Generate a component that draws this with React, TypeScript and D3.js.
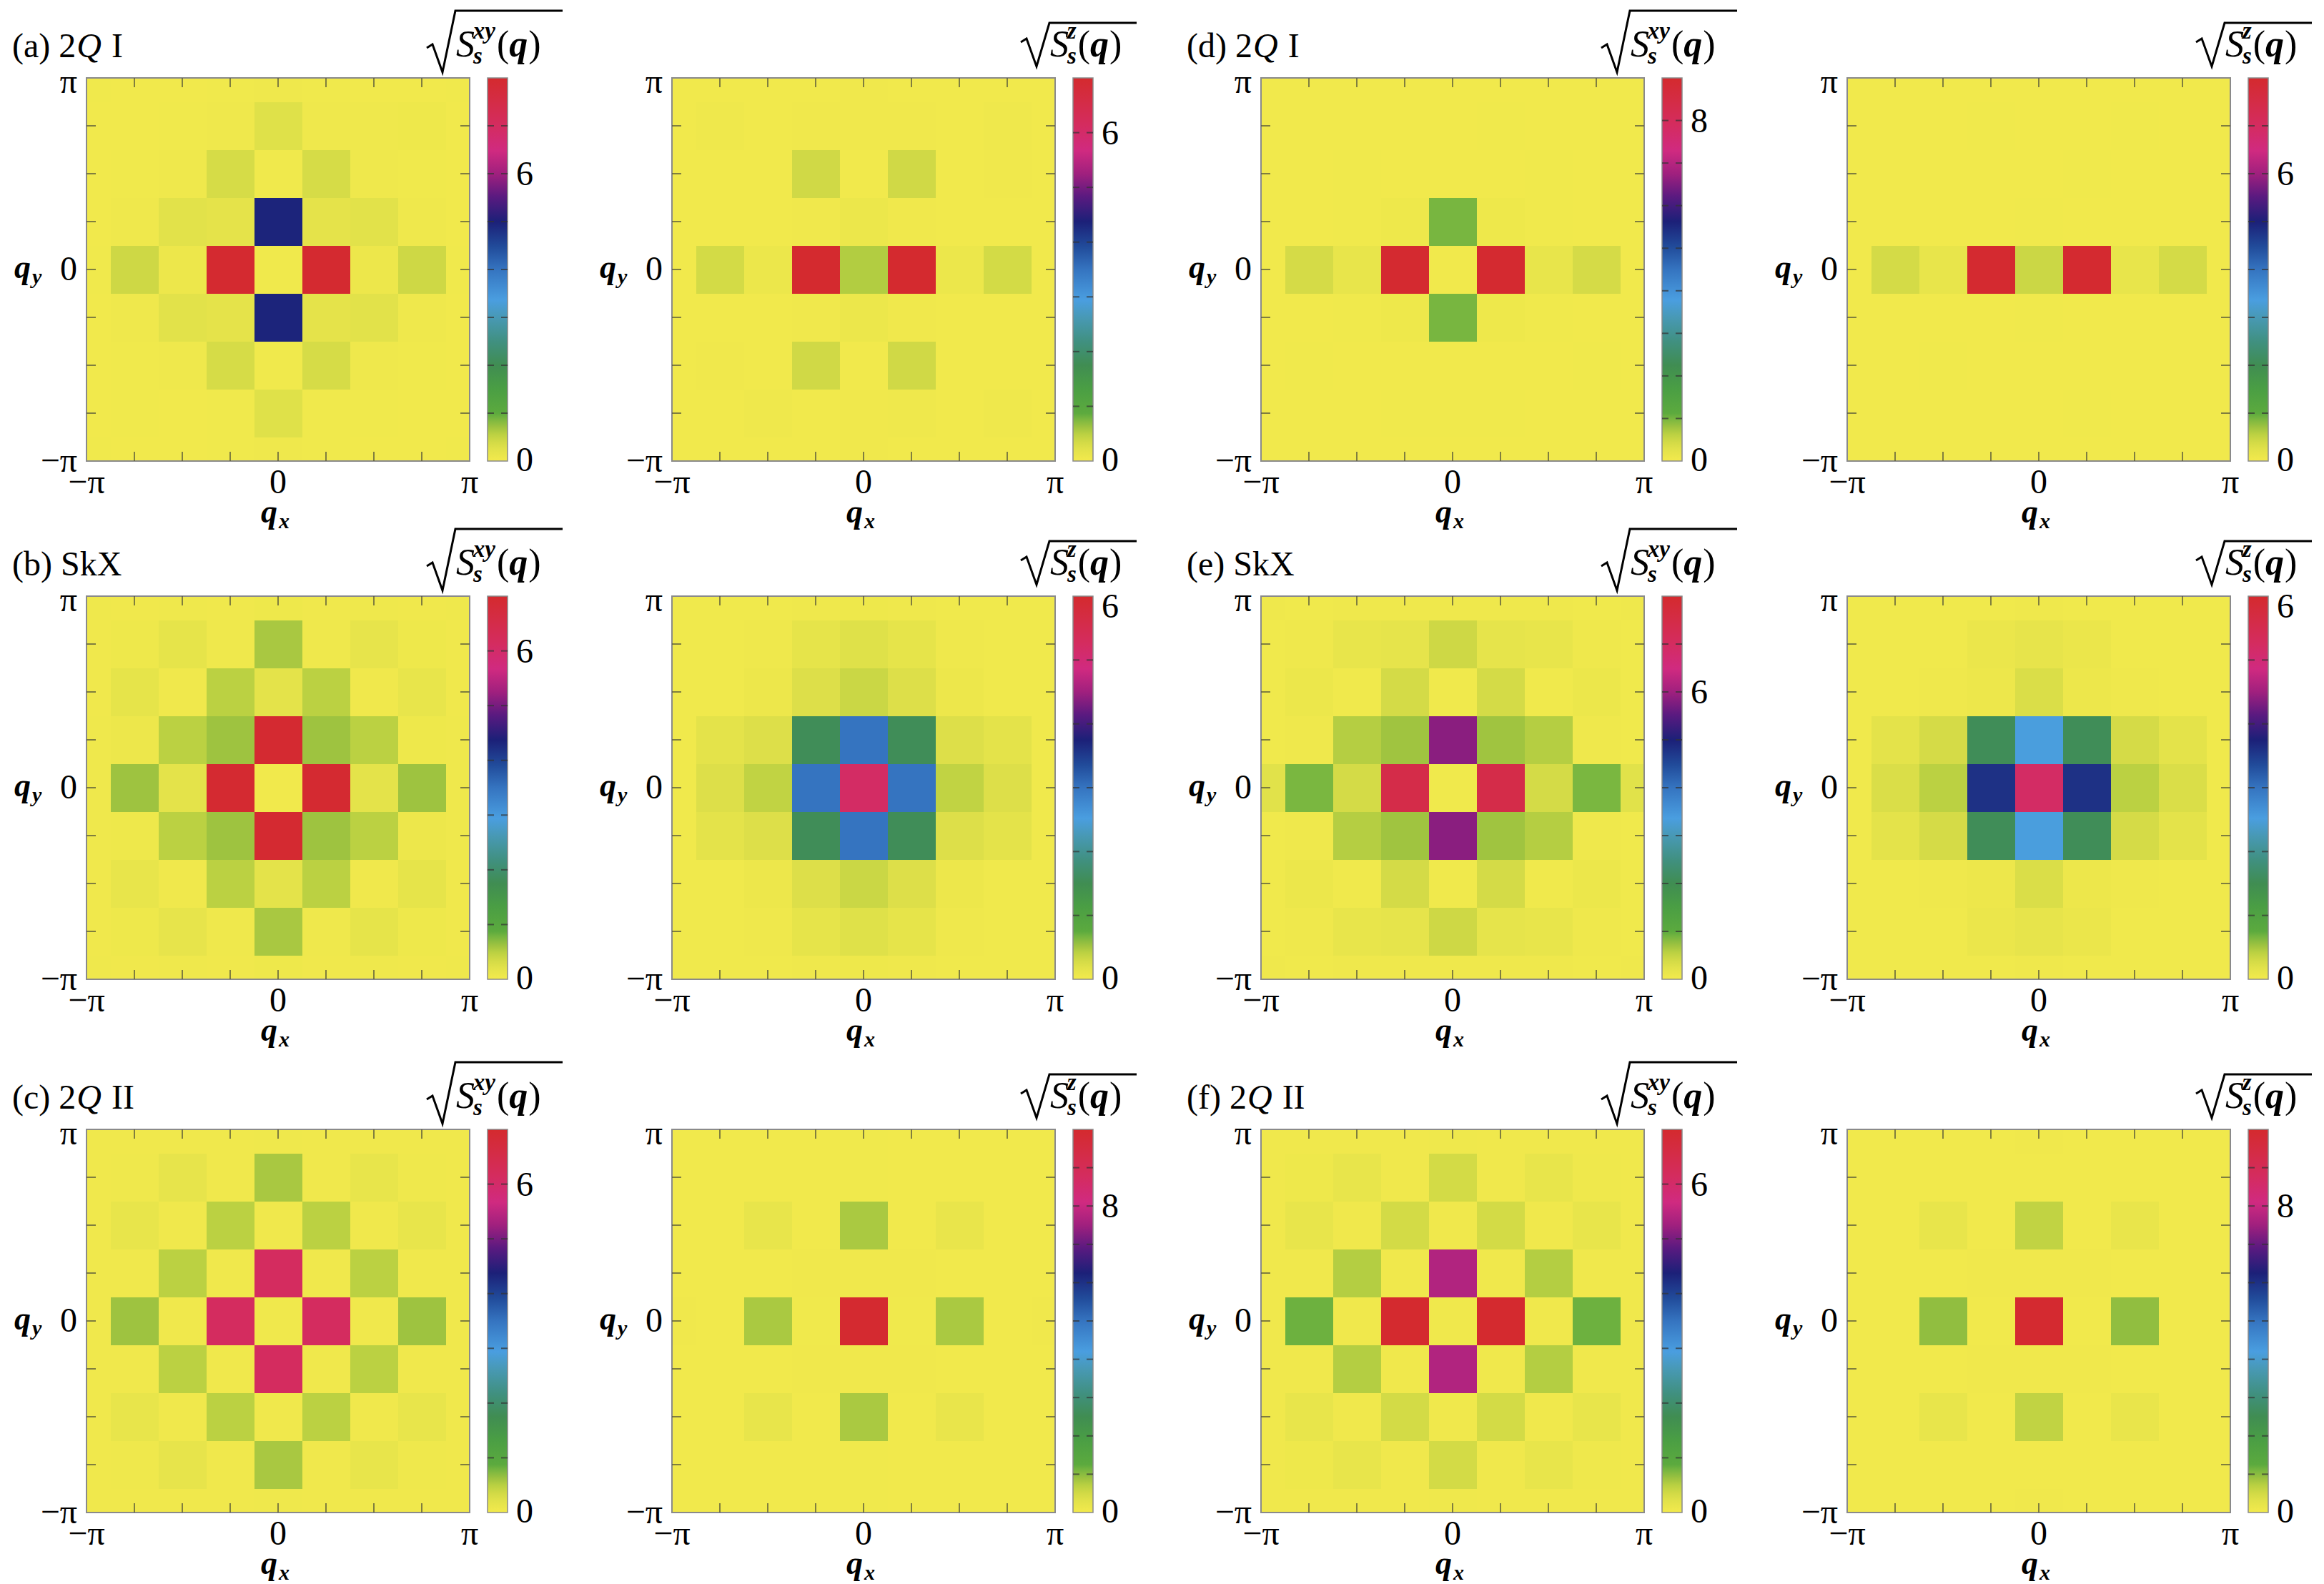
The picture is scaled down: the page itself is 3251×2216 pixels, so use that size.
import React from 'react';
import * as d3 from 'd3';

const FONT = "'Liberation Serif', 'Times New Roman', Times, serif";

// q values in units of π/4 (cell centres, -π..π)
const Q_STEPS = [-4, -3, -2, -1, 0, 1, 2, 3, 4];
const X_TICK_LABELS = [{ n: -4, t: '−π' }, { n: 0, t: '0' }, { n: 4, t: 'π' }];
const Y_TICK_LABELS = [{ n: 4, t: 'π' }, { n: 0, t: '0' }, { n: -4, t: '−π' }];

// colour map (fraction of colour-bar maximum -> colour)
const CMAP_POS = [0, 0.03, 0.05, 0.07, 0.09, 0.11, 0.125, 0.19, 0.25, 0.31, 0.375, 0.42, 0.5, 0.56, 0.625, 0.69, 0.75, 0.81, 0.875, 0.94, 1];
const CMAP_COL = ['#f3ea4c', '#e2e24a', '#d2da46', '#bbd142', '#9cc240', '#78b640', '#5caa3e', '#4a9e44', '#408d52', '#40907f', '#4899b5', '#4a9ee0', '#3574c0', '#214b9a', '#1c2078', '#5a1a80', '#a0207e', '#d02a80', '#d42c60', '#d42c45', '#d42a2e'];

// rows: q_y = π (top) ... -π (bottom); columns: q_x = -π ... π
const A_XY = [
  [0.04, 0.03, 0.03, 0.04, 0.05, 0.04, 0.03, 0.03, 0.04],
  [0.03, 0.03, 0.04, 0.05, 0.27, 0.06, 0.05, 0.07, 0.03],
  [0.03, 0.04, 0.05, 0.36, 0.04, 0.36, 0.05, 0.04, 0.03],
  [0.03, 0.05, 0.24, 0.20, 4.95, 0.20, 0.24, 0.05, 0.03],
  [0.04, 0.43, 0.08, 7.95, 0.04, 7.95, 0.08, 0.43, 0.04],
  [0.03, 0.05, 0.24, 0.20, 4.95, 0.20, 0.24, 0.05, 0.03],
  [0.03, 0.04, 0.05, 0.36, 0.04, 0.36, 0.05, 0.04, 0.03],
  [0.03, 0.04, 0.03, 0.04, 0.27, 0.04, 0.04, 0.03, 0.03],
  [0.04, 0.03, 0.03, 0.04, 0.05, 0.04, 0.03, 0.03, 0.04],
];
const A_Z = [
  [0.03, 0.03, 0.03, 0.03, 0.04, 0.03, 0.03, 0.03, 0.03],
  [0.03, 0.05, 0.03, 0.04, 0.04, 0.04, 0.03, 0.05, 0.03],
  [0.03, 0.03, 0.03, 0.36, 0.03, 0.36, 0.03, 0.04, 0.03],
  [0.03, 0.03, 0.03, 0.04, 0.09, 0.04, 0.03, 0.03, 0.03],
  [0.03, 0.34, 0.09, 6.98, 0.53, 6.98, 0.09, 0.34, 0.03],
  [0.03, 0.03, 0.03, 0.04, 0.09, 0.04, 0.03, 0.03, 0.03],
  [0.03, 0.04, 0.03, 0.36, 0.03, 0.36, 0.03, 0.03, 0.03],
  [0.03, 0.03, 0.05, 0.03, 0.04, 0.05, 0.03, 0.05, 0.03],
  [0.03, 0.03, 0.03, 0.03, 0.04, 0.03, 0.03, 0.03, 0.03],
];
const B_XY = [
  [0.05, 0.04, 0.05, 0.04, 0.06, 0.04, 0.05, 0.04, 0.05],
  [0.04, 0.06, 0.16, 0.05, 0.57, 0.05, 0.15, 0.06, 0.04],
  [0.04, 0.16, 0.04, 0.49, 0.18, 0.49, 0.04, 0.14, 0.04],
  [0.05, 0.08, 0.49, 0.62, 6.95, 0.62, 0.49, 0.06, 0.05],
  [0.05, 0.62, 0.18, 6.95, 0.03, 6.95, 0.18, 0.62, 0.05],
  [0.05, 0.06, 0.49, 0.62, 6.95, 0.62, 0.49, 0.08, 0.05],
  [0.04, 0.14, 0.04, 0.49, 0.18, 0.49, 0.04, 0.16, 0.04],
  [0.04, 0.06, 0.15, 0.05, 0.57, 0.05, 0.16, 0.06, 0.04],
  [0.05, 0.04, 0.05, 0.04, 0.06, 0.04, 0.05, 0.04, 0.05],
];
const B_Z = [
  [0.03, 0.03, 0.03, 0.04, 0.05, 0.04, 0.03, 0.03, 0.03],
  [0.03, 0.03, 0.04, 0.14, 0.20, 0.14, 0.04, 0.03, 0.03],
  [0.03, 0.03, 0.06, 0.22, 0.34, 0.22, 0.06, 0.03, 0.03],
  [0.03, 0.16, 0.22, 1.55, 3.00, 1.55, 0.22, 0.16, 0.03],
  [0.03, 0.22, 0.39, 3.00, 5.20, 3.00, 0.39, 0.22, 0.03],
  [0.03, 0.16, 0.22, 1.55, 3.00, 1.55, 0.22, 0.16, 0.03],
  [0.03, 0.03, 0.06, 0.22, 0.34, 0.22, 0.06, 0.03, 0.03],
  [0.03, 0.03, 0.04, 0.14, 0.20, 0.14, 0.04, 0.03, 0.03],
  [0.03, 0.03, 0.03, 0.04, 0.05, 0.04, 0.03, 0.03, 0.03],
];
const C_XY = [
  [0.04, 0.04, 0.04, 0.04, 0.05, 0.04, 0.04, 0.04, 0.04],
  [0.04, 0.05, 0.15, 0.04, 0.57, 0.04, 0.13, 0.05, 0.04],
  [0.04, 0.14, 0.04, 0.49, 0.04, 0.49, 0.04, 0.14, 0.04],
  [0.04, 0.04, 0.49, 0.04, 6.15, 0.04, 0.49, 0.04, 0.04],
  [0.04, 0.62, 0.04, 6.15, 0.04, 6.15, 0.04, 0.62, 0.04],
  [0.04, 0.04, 0.49, 0.04, 6.15, 0.04, 0.49, 0.04, 0.04],
  [0.04, 0.14, 0.04, 0.49, 0.04, 0.49, 0.04, 0.14, 0.04],
  [0.04, 0.05, 0.15, 0.04, 0.57, 0.04, 0.13, 0.05, 0.04],
  [0.04, 0.04, 0.04, 0.04, 0.05, 0.04, 0.04, 0.04, 0.04],
];
const C_Z = [
  [0.04, 0.04, 0.04, 0.04, 0.05, 0.04, 0.04, 0.04, 0.04],
  [0.04, 0.04, 0.04, 0.04, 0.05, 0.04, 0.04, 0.04, 0.04],
  [0.04, 0.04, 0.20, 0.04, 0.81, 0.04, 0.18, 0.04, 0.04],
  [0.04, 0.04, 0.04, 0.06, 0.06, 0.06, 0.04, 0.04, 0.04],
  [0.06, 0.04, 0.81, 0.05, 9.95, 0.05, 0.81, 0.04, 0.06],
  [0.04, 0.04, 0.04, 0.06, 0.06, 0.06, 0.04, 0.04, 0.04],
  [0.04, 0.04, 0.20, 0.04, 0.81, 0.04, 0.18, 0.04, 0.04],
  [0.04, 0.04, 0.04, 0.04, 0.05, 0.04, 0.04, 0.04, 0.04],
  [0.04, 0.04, 0.04, 0.04, 0.05, 0.04, 0.04, 0.04, 0.04],
];
const D_XY = [
  [0.03, 0.03, 0.03, 0.03, 0.03, 0.03, 0.03, 0.03, 0.03],
  [0.03, 0.03, 0.03, 0.03, 0.03, 0.04, 0.03, 0.03, 0.03],
  [0.03, 0.03, 0.05, 0.03, 0.03, 0.03, 0.05, 0.03, 0.03],
  [0.03, 0.03, 0.04, 0.08, 0.99, 0.08, 0.04, 0.03, 0.03],
  [0.03, 0.42, 0.18, 8.95, 0.03, 8.95, 0.18, 0.42, 0.03],
  [0.03, 0.03, 0.04, 0.08, 0.99, 0.08, 0.04, 0.03, 0.03],
  [0.03, 0.05, 0.03, 0.03, 0.03, 0.03, 0.03, 0.05, 0.03],
  [0.03, 0.03, 0.03, 0.04, 0.04, 0.04, 0.03, 0.03, 0.03],
  [0.03, 0.03, 0.03, 0.03, 0.03, 0.03, 0.03, 0.03, 0.03],
];
const D_Z = [
  [0.03, 0.03, 0.03, 0.03, 0.03, 0.03, 0.03, 0.03, 0.03],
  [0.03, 0.03, 0.03, 0.04, 0.03, 0.03, 0.04, 0.03, 0.03],
  [0.03, 0.03, 0.03, 0.03, 0.03, 0.04, 0.03, 0.03, 0.03],
  [0.03, 0.03, 0.03, 0.03, 0.04, 0.03, 0.03, 0.03, 0.03],
  [0.03, 0.38, 0.15, 7.95, 0.45, 7.95, 0.15, 0.38, 0.03],
  [0.03, 0.03, 0.03, 0.03, 0.04, 0.03, 0.03, 0.03, 0.03],
  [0.03, 0.03, 0.04, 0.03, 0.03, 0.03, 0.03, 0.03, 0.03],
  [0.03, 0.03, 0.03, 0.03, 0.03, 0.04, 0.03, 0.03, 0.03],
  [0.03, 0.03, 0.03, 0.03, 0.03, 0.03, 0.03, 0.03, 0.03],
];
const E_XY = [
  [0.05, 0.04, 0.05, 0.05, 0.06, 0.05, 0.05, 0.04, 0.05],
  [0.04, 0.05, 0.15, 0.18, 0.43, 0.18, 0.15, 0.05, 0.04],
  [0.04, 0.10, 0.04, 0.38, 0.04, 0.38, 0.04, 0.10, 0.04],
  [0.04, 0.05, 0.59, 0.70, 5.85, 0.70, 0.59, 0.05, 0.04],
  [0.25, 0.87, 0.38, 7.45, 0.04, 7.45, 0.38, 0.87, 0.25],
  [0.04, 0.05, 0.59, 0.70, 5.85, 0.70, 0.59, 0.05, 0.04],
  [0.04, 0.10, 0.04, 0.38, 0.04, 0.38, 0.04, 0.10, 0.04],
  [0.04, 0.05, 0.15, 0.18, 0.43, 0.18, 0.15, 0.05, 0.04],
  [0.05, 0.04, 0.05, 0.05, 0.06, 0.05, 0.05, 0.04, 0.05],
];
const E_Z = [
  [0.03, 0.03, 0.03, 0.03, 0.04, 0.03, 0.03, 0.03, 0.03],
  [0.03, 0.03, 0.03, 0.08, 0.13, 0.08, 0.03, 0.03, 0.03],
  [0.03, 0.03, 0.04, 0.06, 0.24, 0.06, 0.04, 0.03, 0.03],
  [0.03, 0.16, 0.28, 1.55, 2.50, 1.55, 0.28, 0.16, 0.03],
  [0.03, 0.24, 0.42, 3.60, 5.20, 3.60, 0.42, 0.24, 0.03],
  [0.03, 0.16, 0.28, 1.55, 2.50, 1.55, 0.28, 0.16, 0.03],
  [0.03, 0.03, 0.04, 0.06, 0.24, 0.06, 0.04, 0.03, 0.03],
  [0.03, 0.03, 0.03, 0.08, 0.13, 0.08, 0.03, 0.03, 0.03],
  [0.03, 0.03, 0.03, 0.03, 0.04, 0.03, 0.03, 0.03, 0.03],
];
const F_XY = [
  [0.04, 0.04, 0.04, 0.04, 0.05, 0.04, 0.04, 0.04, 0.04],
  [0.04, 0.06, 0.14, 0.04, 0.34, 0.04, 0.13, 0.05, 0.04],
  [0.04, 0.14, 0.04, 0.34, 0.04, 0.34, 0.04, 0.14, 0.04],
  [0.04, 0.04, 0.52, 0.04, 5.40, 0.04, 0.52, 0.04, 0.04],
  [0.04, 0.81, 0.04, 6.98, 0.04, 6.98, 0.04, 0.81, 0.04],
  [0.04, 0.04, 0.52, 0.04, 5.40, 0.04, 0.52, 0.04, 0.04],
  [0.04, 0.14, 0.04, 0.34, 0.04, 0.34, 0.04, 0.14, 0.04],
  [0.04, 0.06, 0.14, 0.04, 0.34, 0.04, 0.13, 0.05, 0.04],
  [0.04, 0.04, 0.04, 0.04, 0.05, 0.04, 0.04, 0.04, 0.04],
];
const F_Z = [
  [0.04, 0.04, 0.04, 0.04, 0.06, 0.04, 0.04, 0.04, 0.04],
  [0.04, 0.04, 0.04, 0.04, 0.04, 0.04, 0.04, 0.04, 0.04],
  [0.04, 0.04, 0.20, 0.04, 0.65, 0.04, 0.17, 0.04, 0.04],
  [0.04, 0.04, 0.04, 0.06, 0.06, 0.06, 0.04, 0.04, 0.04],
  [0.04, 0.04, 0.96, 0.04, 9.95, 0.04, 0.96, 0.04, 0.04],
  [0.04, 0.04, 0.04, 0.06, 0.06, 0.06, 0.04, 0.04, 0.04],
  [0.04, 0.04, 0.20, 0.04, 0.65, 0.04, 0.17, 0.04, 0.04],
  [0.04, 0.04, 0.04, 0.04, 0.04, 0.04, 0.04, 0.04, 0.04],
  [0.04, 0.04, 0.04, 0.04, 0.06, 0.04, 0.04, 0.04, 0.04],
];

// panel rows: letter, phase name, data, colour-bar max and labelled ticks
const PANEL_LETTERS = ['a', 'b', 'c', 'd', 'e', 'f'];
const PANEL_PHASES = [['2', 'Q', ' I'], ['SkX', '', ''], ['2', 'Q', ' II'], ['2', 'Q', ' I'], ['SkX', '', ''], ['2', 'Q', ' II']];
const XY_DATA = [A_XY, B_XY, C_XY, D_XY, E_XY, F_XY];
const Z_DATA = [A_Z, B_Z, C_Z, D_Z, E_Z, F_Z];
const XY_MAX = [8, 7, 7, 9, 8, 7];
const Z_MAX = [7, 6, 10, 8, 6, 10];
const XY_LABELS = [[0, 6], [0, 6], [0, 6], [0, 8], [0, 6], [0, 6]];
const Z_LABELS = [[0, 6], [0, 6], [0, 8], [0, 6], [0, 6], [0, 8]];

const W = 3251;
const H = 2216;
const SIZE = 536;
const COL_LEFT = [121, 940, 1764, 2584];
const ROW_TOP = [109, 834, 1580];
const CB_GAP = 25;
const CB_W = 28;
const FS = 48;

function SqrtLabel({ L, T, kind }: { L: number; T: number; kind: 'xy' | 'z' }) {
  const isXY = kind === 'xy';
  const x0 = isXY ? L + 476 : L + 488;
  const top = isXY ? T - 94 : T - 77;
  const bottom = isXY ? T - 8 : T - 16;
  const end = isXY ? L + 666 : L + 650;
  const d = `M${x0},${bottom - 34} L${x0 + 8},${bottom - 39} L${x0 + 22},${bottom} L${x0 + 40},${top} H${end}`;
  const tx = x0 + 41;
  const base = T - 30;
  return (
    <g>
      <path d={d} fill="none" stroke="#000" strokeWidth={3} strokeLinejoin="miter" />
      <text x={tx} y={base} fontFamily={FONT} fontSize={52} fill="#000">
        <tspan fontStyle="italic">S</tspan>
        <tspan fontStyle="italic" fontWeight="bold" fontSize={33} dx={-2} dy={10}>s</tspan>
        <tspan fontStyle="italic" fontWeight="bold" fontSize={33} dx={-13} dy={-35}>{isXY ? 'xy' : 'z'}</tspan>
        <tspan dx={2} dy={25}>(</tspan>
        <tspan fontStyle="italic" fontWeight="bold">q</tspan>
        <tspan dx={1}>)</tspan>
      </text>
    </g>
  );
}

function Heatmap({ L, T, grid, max, labels, kind, id }: any) {
  const x = d3.scaleLinear().domain([-Math.PI, Math.PI]).range([L, L + SIZE]);
  const y = d3.scaleLinear().domain([-Math.PI, Math.PI]).range([T + SIZE, T]);
  const color = d3.scaleLinear<string>().domain(CMAP_POS.map((p) => p * max)).range(CMAP_COL).clamp(true);
  const half = Math.PI / 8;
  const cells: any[] = [];
  grid.forEach((row: number[], i: number) => {
    row.forEach((v: number, j: number) => {
      const qx = (Q_STEPS[j] * Math.PI) / 4;
      const qy = (Q_STEPS[8 - i] * Math.PI) / 4;
      const x0 = x(Math.max(-Math.PI, qx - half));
      const x1 = x(Math.min(Math.PI, qx + half));
      const y0 = y(Math.min(Math.PI, qy + half));
      const y1 = y(Math.max(-Math.PI, qy - half));
      cells.push(<rect key={`${i}-${j}`} x={x0} y={y0} width={x1 - x0 + 0.6} height={y1 - y0 + 0.6} fill={color(v)} />);
    });
  });
  const tickLen = 13;
  const inner = Q_STEPS.filter((n) => Math.abs(n) < 4);
  const cbX = L + SIZE + CB_GAP;
  const cb = d3.scaleLinear().domain([0, max]).range([T + SIZE, T]);
  const cbTicks = d3.range(1, max);
  return (
    <g>
      <defs>
        <linearGradient id={id} x1="0" y1="1" x2="0" y2="0">
          {CMAP_POS.map((p, k) => (
            <stop key={k} offset={p} stopColor={CMAP_COL[k]} />
          ))}
        </linearGradient>
      </defs>
      <g shapeRendering="crispEdges">{cells}</g>
      <rect x={L} y={T} width={SIZE} height={SIZE} fill="none" stroke="#8a8a8a" strokeWidth={2} />
      {inner.map((n) => {
        const px = x((n * Math.PI) / 4);
        const py = y((n * Math.PI) / 4);
        return (
          <g key={n} stroke="#5a5a3a" strokeOpacity={0.75} strokeWidth={2}>
            <line x1={px} x2={px} y1={T + SIZE} y2={T + SIZE - tickLen} />
            <line x1={px} x2={px} y1={T} y2={T + tickLen} />
            <line x1={L} x2={L + tickLen} y1={py} y2={py} />
            <line x1={L + SIZE} x2={L + SIZE - tickLen} y1={py} y2={py} />
          </g>
        );
      })}
      {X_TICK_LABELS.map((d) => (
        <text key={d.t} x={x((d.n * Math.PI) / 4)} y={T + SIZE + 45} textAnchor="middle" fontFamily={FONT} fontSize={FS}>
          {d.t}
        </text>
      ))}
      {Y_TICK_LABELS.map((d) => (
        <text key={d.t} x={L - 13} y={y((d.n * Math.PI) / 4) + (d.n === 4 ? 21 : 15)} textAnchor="end" fontFamily={FONT} fontSize={FS}>
          {d.t}
        </text>
      ))}
      <text x={x(0) - 4} y={T + SIZE + 86} textAnchor="middle" fontFamily={FONT} fontSize={46}>
        <tspan fontStyle="italic" fontWeight="bold">q</tspan>
        <tspan fontStyle="italic" fontWeight="bold" fontSize={30} dx={2} dy={8}>x</tspan>
      </text>
      <text x={L - 101} y={y(0) + 12} fontFamily={FONT} fontSize={46}>
        <tspan fontStyle="italic" fontWeight="bold">q</tspan>
        <tspan fontStyle="italic" fontWeight="bold" fontSize={30} dx={2} dy={8}>y</tspan>
      </text>
      <rect x={cbX} y={T} width={CB_W} height={SIZE} fill={`url(#${id})`} stroke="#8a8a8a" strokeWidth={1.5} />
      {cbTicks.map((t) => (
        <g key={t} stroke="#333" strokeOpacity={0.7} strokeWidth={2}>
          <line x1={cbX} x2={cbX + 9} y1={cb(t)} y2={cb(t)} />
          <line x1={cbX + CB_W - 9} x2={cbX + CB_W} y1={cb(t)} y2={cb(t)} />
        </g>
      ))}
      {labels.map((t: number) => (
        <text key={t} x={cbX + CB_W + 12} y={t === max ? cb(t) + 30 : Math.min(cb(t) + 16, T + SIZE + 14)} fontFamily={FONT} fontSize={FS}>
          {t}
        </text>
      ))}
      <SqrtLabel L={L} T={T} kind={kind} />
    </g>
  );
}

export default function App() {
  const panels: any[] = [];
  PANEL_LETTERS.forEach((letter, k) => {
    const r = k % 3;
    const c = k < 3 ? 0 : 2;
    const T = ROW_TOP[r];
    const L1 = COL_LEFT[c];
    const L2 = COL_LEFT[c + 1];
    const ph = PANEL_PHASES[k];
    panels.push(
      <g key={letter}>
        <text x={L1 - 104} y={T - 29} fontFamily={FONT} fontSize={FS}>
          <tspan>{`(${letter}) ${ph[0]}`}</tspan>
          {ph[1] ? <tspan fontStyle="italic" dx={1}>{ph[1]}</tspan> : null}
          {ph[2] ? <tspan dx={2}>{ph[2]}</tspan> : null}
        </text>
        <Heatmap L={L1} T={T} grid={XY_DATA[k]} max={XY_MAX[k]} labels={XY_LABELS[k]} kind="xy" id={`g-${letter}-xy`} />
        <Heatmap L={L2} T={T} grid={Z_DATA[k]} max={Z_MAX[k]} labels={Z_LABELS[k]} kind="z" id={`g-${letter}-z`} />
      </g>
    );
  });
  return (
    <svg width={W} height={H} viewBox={`0 0 ${W} ${H}`} style={{ position: 'absolute', left: 0, top: 0, background: '#fff' }}>
      <rect x={0} y={0} width={W} height={H} fill="#fff" />
      {panels}
    </svg>
  );
}
